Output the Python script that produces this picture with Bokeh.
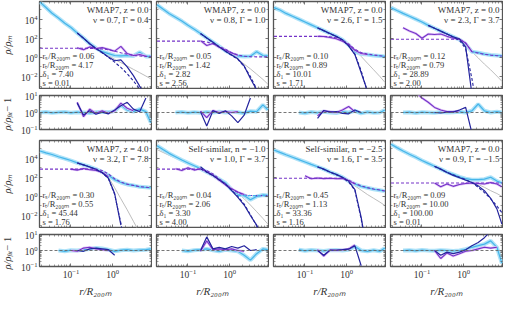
import math
from bokeh.plotting import figure
from bokeh.models import FixedTicker, LogAxis, Label, Span, Range1d, LogTickFormatter
from bokeh.core.properties import value
from bokeh.layouts import column, row
from bokeh.embed import file_html
from bokeh.resources import INLINE

N = float("nan")

# radius grid r / R200m
R = [0.018, 0.025, 0.035, 0.05, 0.071, 0.1, 0.141, 0.2, 0.282, 0.398, 0.562,
     0.794, 1.12, 1.58, 2.24, 3.16, 4.47, 6.31, 8.32]

# log10(rho/rho_m): total (data), fit, orbiting data/model, infalling data/model
P1_TOT = [5.78, 5.22, 4.62, 4.12, 3.58, 3.12, 2.55, 2.02, 1.43, 0.97, 0.6, 0.4, 0.2, 0.15, 0.2, 0.15, 0.55, 0.1, 0.1]
P1_FIT = [5.75, 5.2, 4.65, 4.1, 3.6, 3.1, 2.55, 2.0, 1.45, 0.95, 0.55, 0.2, -0.2, -0.55, -0.9, -1.25, -1.6, -1.95, -2.25]
P1_ORB = [N, N, N, N, N, N, 2.55, 2.0, 1.42, 0.93, 0.5, 0.05, -0.35, -0.25, -1.0, -1.9, -3.0, -4.0, N]
P1_ORBM = [N, N, N, N, N, N, 2.55, 2.0, 1.42, 0.92, 0.48, 0.0, -0.5, -1.05, -1.7, -2.45, -3.3, -4.2, N]
P1_INF = [N, N, N, N, N, N, 1.0, 0.8, 1.1, 0.92, 1.02, 0.85, 0.65, 1.15, 0.4, 0.2, 0.3, 0.12, N]
P1_INFM = [0.95, 0.95, 0.95, 0.95, 0.95, 0.95, 0.95, 0.95, 0.94, 0.92, 0.88, 0.8, 0.65, 0.48, 0.33, 0.22, 0.15, 0.11, 0.1]
P1_RTOT = [0.0, 0.03, -0.02, 0.01, 0.03, -0.02, 0.02, 0.0, -0.03, 0.02, 0.04, 0.02, 0.08, 0.45, 0.15, 0.05, 0.2, 0.05, -0.6]
P1_RORB = [N, N, N, N, N, N, 0.55, -0.15, 0.1, -0.1, 0.02, -0.08, 0.15, 0.4, 0.6, 0.2, 0.05, 0.85, N]
P1_RINF = [N, N, N, N, N, N, 0.6, -0.25, 0.2, -0.05, 0.1, -0.05, 0.1, 0.55, 0.25, 0.1, N, N, N]

P2_TOT = [5.5, 5.05, 4.6, 4.2, 3.8, 3.35, 2.95, 2.5, 2.05, 1.6, 1.15, 0.7, 0.35, 0.15, 0.1, 0.12, 0.6, 0.2, 0.15]
P2_FIT = [5.25, 4.9, 4.5, 4.12, 3.75, 3.33, 2.93, 2.48, 2.03, 1.58, 1.12, 0.68, 0.3, -0.2, -0.7, -1.2, -1.75, -2.3, -2.8]
P2_ORB = [N, N, N, N, N, N, N, 2.5, 2.03, 1.58, 1.1, 0.65, 0.25, -0.15, -0.9, -2.2, -3.4, N, N]
P2_ORBM = [N, N, N, N, N, N, N, 2.48, 2.02, 1.56, 1.1, 0.64, 0.22, -0.2, -0.95, -2.0, -3.3, -4.5, N]
P2_INF = [N, N, N, N, N, N, N, 1.75, 1.25, 1.45, 1.05, 0.78, 0.45, 0.22, N, N, N, N, N]
P2_INFM = [1.7, 1.7, 1.7, 1.7, 1.7, 1.7, 1.7, 1.7, 1.62, 1.42, 1.15, 0.85, 0.5, 0.25, 0.12, 0.08, 0.06, 0.05, 0.05]
P2_RTOT = [N, N, N, 0.0, 0.03, -0.02, 0.02, -0.01, 0.03, 0.0, 0.04, 0.0, 0.05, 0.02, -0.04, 0.08, 0.05, 0.45, 0.15]
P2_RORB = [N, N, N, N, N, N, N, 0.05, -0.8, 0.1, -0.05, 0.1, -0.2, -0.6, -0.15, 0.85, N, N, N]
P2_RINF = [N, N, N, N, N, N, N, 0.08, -0.3, 0.12, 0.0, 0.06, 0.0, 0.05, N, N, N, N, N]

P3_TOT = [5.2, 4.95, 4.6, 4.3, 4.0, 3.7, 3.4, 3.1, 2.8, 2.5, 2.2, 1.85, 1.3, 0.6, 0.35, 0.3, 0.2, 0.15, 0.1]
P3_FIT = [5.1, 4.85, 4.57, 4.28, 3.98, 3.68, 3.38, 3.08, 2.78, 2.48, 2.18, 1.82, 1.3, 0.8, 0.1, -0.6, -1.3, -2.0, -2.6]
P3_ORB = [N, N, N, N, N, N, N, 3.1, 2.8, 2.5, 2.2, 1.85, 1.2, 0.3, -1.6, -3.5, N, N, N]
P3_ORBM = [N, N, N, N, N, N, N, 3.08, 2.78, 2.48, 2.18, 1.82, 1.22, 0.35, -1.4, -3.6, N, N, N]
P3_INF = [N, N, N, N, N, N, N, 2.2, 2.18, 2.08, 1.95, 1.7, 1.35, 0.75, 0.4, 0.3, N, N, N]
P3_INFM = [2.2, 2.2, 2.2, 2.2, 2.2, 2.2, 2.2, 2.2, 2.19, 2.15, 2.05, 1.8, 1.4, 0.85, 0.5, 0.35, 0.25, 0.18, 0.12]
P3_RTOT = [N, N, N, N, 0.0, -0.04, 0.03, -0.02, 0.04, 0.0, -0.03, 0.05, 0.0, 0.1, -0.05, 0.03, -0.02, 0.0, 0.15]
P3_RORB = [N, N, N, N, N, N, N, -0.35, 0.12, 0.02, 0.06, -0.05, -0.08, 0.15, 0.0, N, N, N, N]
P3_RINF = [N, N, N, N, N, N, N, -0.2, 0.1, 0.05, 0.0, 0.15, 0.35, 0.05, N, N, N, N, N]

P4_TOT = [5.2, 4.9, 4.6, 4.3, 4.0, 3.7, 3.35, 3.05, 2.75, 2.45, 2.15, 1.85, 1.4, 0.6, 0.5, 0.35, 0.25, 0.2, 0.15]
P4_FIT = [5.15, 4.87, 4.58, 4.28, 3.98, 3.68, 3.34, 3.04, 2.74, 2.44, 2.14, 1.82, 1.3, 0.6, -0.05, -0.7, -1.3, -1.95, -2.5]
P4_ORB = [N, N, N, N, N, N, 3.35, 3.05, 2.75, 2.45, 2.15, 1.95, 1.1, -3.8, N, N, N, N, N]
P4_ORBM = [N, N, N, N, N, N, 3.34, 3.04, 2.74, 2.44, 2.12, 1.8, 0.9, -2.2, -6.0, N, N, N, N]
P4_INF = [N, N, 3.1, 2.75, 2.5, 2.0, 2.45, 2.4, 2.45, 2.2, 2.0, 1.9, 1.5, 0.6, N, N, N, N, N]
P4_INFM = [1.9, 1.9, 1.9, 1.9, 1.9, 1.9, 1.9, 1.9, 1.9, 1.9, 1.9, 1.9, 1.5, 0.6, 0.45, 0.32, 0.24, 0.18, 0.14]
P4_RTOT = [N, N, 0.0, 0.02, -0.03, 0.02, 0.0, -0.02, 0.03, 0.0, 0.02, 0.05, 0.0, 0.1, 0.5, 0.1, 0.0, 0.05, 0.0]
P4_RORB = [N, N, N, N, N, N, N, 0.0, -0.03, 0.02, 0.02, 0.15, 0.3, -1.2, N, N, N, N, N]
P4_RINF = [N, N, 1.6, 1.3, 1.2, 0.85, 0.6, 0.3, 0.15, 0.05, 0.05, 0.1, N, N, N, N, N, N, N]

P5_TOT = [4.75, 4.55, 4.38, 4.15, 3.95, 3.75, 3.5, 3.3, 3.1, 2.85, 2.55, 2.2, 1.75, 1.45, 1.25, 1.15, 1.0, 0.95, 0.9]
P5_FIT = [4.72, 4.53, 4.35, 4.13, 3.93, 3.73, 3.48, 3.28, 3.07, 2.82, 2.5, 2.0, 0.9, -0.25, -1.4, -2.6, -3.8, -5.0, -6.0]
P5_ORB = [N, N, N, N, N, N, 3.5, 3.3, 3.08, 2.82, 2.5, 1.9, 0.3, -3.0, N, N, N, N, N]
P5_ORBM = [N, N, N, N, N, N, 3.49, 3.29, 3.07, 2.81, 2.48, 1.85, 0.2, -2.8, -7.0, N, N, N, N]
P5_INF = [N, N, N, N, N, 2.85, 2.75, 2.92, 2.78, 2.72, 2.5, 2.05, N, N, N, N, N, N, N]
P5_INFM = [2.85, 2.85, 2.85, 2.85, 2.85, 2.85, 2.85, 2.85, 2.85, 2.85, 2.7, 2.35, 1.85, 1.5, 1.28, 1.15, 1.03, 0.96, 0.9]
P5_RTOT = [N, N, N, 0.0, -0.05, 0.02, 0.0, 0.05, 0.1, 0.15, 0.12, 0.05, -0.05, 0.02, 0.05, 0.0, 0.03, 0.05, 0.1]
P5_RORB = [N, N, N, N, N, N, 0.0, -0.05, 0.1, 0.15, 0.1, 0.05, -0.3, N, N, N, N, N, N]
P5_RINF = [N, N, N, N, N, 0.0, -0.05, 0.15, 0.2, 0.1, 0.05, 0.0, N, N, N, N, N, N, N]

P6_TOT = [5.3, 4.9, 4.5, 4.15, 3.8, 3.5, 3.2, 2.9, 2.55, 2.2, 1.8, 1.4, 0.7, 0.25, 0.1, -0.35, 0.0, 0.15, 0.1]
P6_FIT = [4.9, 4.6, 4.3, 4.0, 3.7, 3.42, 3.15, 2.85, 2.5, 2.15, 1.75, 1.35, 0.9, 0.35, -0.25, -0.9, -1.6, -2.3, -2.9]
P6_ORB = [N, N, N, N, N, N, N, 3.1, 2.55, 2.2, 1.75, 1.3, 0.6, -0.1, -0.9, -2.0, -3.0, -4.5, N]
P6_ORBM = [N, N, N, N, N, N, N, 2.88, 2.52, 2.17, 1.72, 1.28, 0.65, 0.0, -0.8, -1.9, -3.1, -4.5, N]
P6_INF = [N, N, N, 2.9, 2.7, 3.0, 2.75, 2.9, 2.6, 2.2, 1.7, 1.2, 0.8, 0.45, 0.2, N, N, N, N]
P6_INFM = [2.85, 2.85, 2.85, 2.85, 2.85, 2.85, 2.85, 2.85, 2.7, 2.35, 1.85, 1.3, 0.8, 0.4, 0.15, 0.1, 0.08, 0.08, 0.08]
P6_TOTM = [N, N, N, N, N, N, N, N, N, N, N, N, N, 0.08, 0.08, 0.08, 0.08, 0.08, 0.08]
P6_RTOT = [N, N, N, N, 0.0, -0.05, 0.02, 0.05, 0.1, 0.02, -0.05, 0.05, 0.0, -0.05, -0.3, -0.6, -0.2, 0.1, 0.05]
P6_RORB = [N, N, N, N, N, N, N, 0.0, 0.85, 0.1, 0.2, 0.1, 0.25, 0.15, 0.3, 0.0, 0.05, N, N]
P6_RINF = [N, N, N, N, N, N, N, -0.05, 0.6, 0.05, 0.1, 0.05, 0.1, 0.0, -0.05, N, N, N, N]

P7_TOT = [4.85, 4.6, 4.35, 4.1, 3.85, 3.6, 3.35, 3.1, 2.85, 2.55, 2.3, 2.0, 1.6, 1.3, 1.05, 0.9, 0.75, 0.65, 0.55]
P7_FIT = [4.82, 4.58, 4.33, 4.08, 3.83, 3.58, 3.33, 3.08, 2.83, 2.53, 2.27, 1.97, 1.55, 1.1, 0.65, 0.2, -0.2, -0.6, -0.95]
P7_ORB = [N, N, N, N, N, N, N, 3.1, 2.85, 2.55, 2.3, 2.0, 1.6, 0.7, -2.2, -6.0, N, N, N]
P7_ORBM = [N, N, N, N, N, N, N, 3.08, 2.83, 2.53, 2.27, 1.97, 1.5, 0.65, -2.4, -6.0, N, N, N]
P7_INF = [N, N, N, N, N, 2.15, 1.85, 1.92, 1.86, 1.9, 1.85, 1.88, 1.65, 1.3, N, N, N, N, N]
P7_INFM = [1.9, 1.9, 1.9, 1.9, 1.9, 1.9, 1.9, 1.9, 1.9, 1.9, 1.9, 1.9, 1.7, 1.35, 1.1, 0.92, 0.78, 0.67, 0.57]
P7_RTOT = [N, N, N, N, 0.05, -0.02, 0.03, 0.0, -0.03, 0.02, 0.03, 0.0, 0.05, 0.25, 0.0, -0.05, 0.02, -0.05, 0.15]
P7_RORB = [N, N, N, N, N, N, N, 0.0, -0.3, 0.02, 0.03, 0.05, 0.08, 0.3, -0.95, N, N, N, N]
P7_RINF = [N, N, N, N, N, N, N, 0.05, -0.35, 0.03, 0.0, 0.05, 0.1, 0.35, N, N, N, N, N]

P8_TOT = [5.45, 5.1, 4.75, 4.4, 4.1, 3.75, 3.45, 3.15, 2.85, 2.55, 2.3, 2.05, 1.85, 1.75, 1.75, 1.8, 2.0, 1.6, 1.4]
P8_FIT = [5.5, 5.12, 4.75, 4.4, 4.08, 3.73, 3.43, 3.13, 2.83, 2.53, 2.27, 2.03, 1.8, 1.55, 1.25, 0.95, 0.6, 0.3, 0.0]
P8_ORB = [N, N, N, N, N, N, N, 3.15, 2.85, 2.5, 2.2, 1.95, 1.7, 1.45, 1.1, 0.6, -0.2, -1.3, -2.9]
P8_ORBM = [N, N, N, N, N, N, N, 3.13, 2.83, 2.52, 2.25, 2.0, 1.75, 1.45, 0.95, 0.4, -0.25, -1.0, -1.7]
P8_INF = [N, N, N, N, N, N, N, 1.4, 1.0, 1.3, 1.05, 1.25, 1.35, 1.4, 1.35, 1.3, 1.45, 1.3, 1.0]
P8_INFM = [1.4, 1.4, 1.4, 1.4, 1.4, 1.4, 1.4, 1.4, 1.4, 1.4, 1.4, 1.4, 1.4, 1.4, 1.4, 1.4, 1.4, 1.4, 1.4]
P8_RTOT = [N, N, 0.0, 0.02, -0.02, 0.03, 0.0, -0.02, 0.02, 0.0, -0.03, 0.0, 0.08, 0.2, 0.3, 0.4, 0.6, 0.2, -0.8]
P8_RORB = [N, N, N, N, N, N, N, 0.0, -0.3, -0.1, -0.2, -0.1, 0.05, 0.3, 0.5, 0.8, 1.2, 1.2, N]
P8_RINF = [N, N, N, N, N, N, N, 0.0, -0.5, -0.15, -0.35, -0.2, -0.05, 0.0, 0.1, 0.2, 0.15, 0.2, N]

TITLES = ["WMAP7, z = 0.0", "WMAP7, z = 0.0", "WMAP7, z = 0.0", "WMAP7, z = 0.0",
          "WMAP7, z = 4.0", "Self-similar, n = \u22121.0", "Self-similar, n = \u22122.5", "WMAP7, z = 0.0"]
SUBTITLES = ["\u03bd = 0.7, \u0393 = 0.4", "\u03bd = 0.8, \u0393 = 1.0", "\u03bd = 2.6, \u0393 = 1.5",
             "\u03bd = 2.3, \u0393 = 3.7", "\u03bd = 3.2, \u0393 = 7.8", "\u03bd = 1.0, \u0393 = 3.7",
             "\u03bd = 1.6, \u0393 = 3.5", "\u03bd = 0.9, \u0393 = \u22121.5"]
RS = ["0.06", "0.05", "0.10", "0.12", "0.30", "0.04", "0.45", "0.09"]
RT = ["4.17", "1.42", "0.89", "0.79", "0.55", "2.06", "1.13", "10.00"]
DELTA1 = ["7.40", "2.82", "10.01", "28.89", "45.44", "3.30", "33.36", "100.00"]
SVAL = ["0.01", "2.56", "1.71", "2.00", "1.76", "4.00", "1.16", "0.01"]

X_TICKS = [0.1, 1.0]
X_MINOR = [0.02, 0.03, 0.04, 0.05, 0.06, 0.07, 0.08, 0.09, 0.2, 0.3, 0.4, 0.5, 0.6, 0.7, 0.8, 0.9,
           2, 3, 4, 5, 6, 7, 8]
Y_TICKS = [1e-2, 1.0, 1e2, 1e4]
Y_MINOR = [1e-3, 1e-1, 1e1, 1e3, 1e5]
RES_TICKS = [0.1, 1.0, 10.0]
RES_MINOR = [0.2, 0.3, 0.4, 0.5, 0.6, 0.7, 0.8, 0.9, 2, 3, 4, 5, 6, 7, 8, 9]

X_RANGE = (0.0175, 8.6)
Y_MAIN = (5.6e-4, 7.0e5)
Y_RES = (0.1, 10.0)

PANELS = [
    (P1_TOT, P1_FIT, P1_ORB, P1_ORBM, P1_INF, P1_INFM, None, P1_RTOT, P1_RORB, P1_RINF),
    (P2_TOT, P2_FIT, P2_ORB, P2_ORBM, P2_INF, P2_INFM, None, P2_RTOT, P2_RORB, P2_RINF),
    (P3_TOT, P3_FIT, P3_ORB, P3_ORBM, P3_INF, P3_INFM, None, P3_RTOT, P3_RORB, P3_RINF),
    (P4_TOT, P4_FIT, P4_ORB, P4_ORBM, P4_INF, P4_INFM, None, P4_RTOT, P4_RORB, P4_RINF),
    (P5_TOT, P5_FIT, P5_ORB, P5_ORBM, P5_INF, P5_INFM, None, P5_RTOT, P5_RORB, P5_RINF),
    (P6_TOT, P6_FIT, P6_ORB, P6_ORBM, P6_INF, P6_INFM, P6_TOTM, P6_RTOT, P6_RORB, P6_RINF),
    (P7_TOT, P7_FIT, P7_ORB, P7_ORBM, P7_INF, P7_INFM, None, P7_RTOT, P7_RORB, P7_RINF),
    (P8_TOT, P8_FIT, P8_ORB, P8_ORBM, P8_INF, P8_INFM, None, P8_RTOT, P8_RORB, P8_RINF),
]

CYAN = "#45b5ea"
CYAN_BAND = "#aee2f8"
NAVY = "#24249e"
PURPLE = "#7433c8"
PURPLE_BAND = "#e2c6f7"
GRAY = "#b5b5b5"
INK = "#333333"
FRAME = "#555555"
SERIF = "Liberation Serif"

STRIP_W = 15
FRAME_W = 112
MAIN_H = 87
RES_H = 34
LEFT0 = 24
LEFTN = 4
TOP_MAIN = (1, 5)
TOP_RES = 6
BOTTOM_RES = (6, 31)


def lin(v):
    return [10 ** x for x in v]


def style_axis(ax, show):
    ax.major_tick_in = 3
    ax.major_tick_out = 0
    ax.minor_tick_in = 2
    ax.minor_tick_out = 0
    ax.axis_line_color = None
    ax.major_tick_line_color = FRAME
    ax.minor_tick_line_color = FRAME
    ax.major_tick_line_width = 0.8
    ax.minor_tick_line_width = 0.6
    if show:
        ax.major_label_text_font = SERIF
        ax.major_label_text_font_size = "9.5px"
        ax.major_label_text_color = INK
        ax.major_label_standoff = 2
    else:
        ax.major_label_text_font_size = "1px"
        ax.major_label_text_alpha = 0.0
        ax.major_label_standoff = 0


def make_fig(col, kind, rowi):
    left = LEFT0 if col == 0 else LEFTN
    if kind == "main":
        top = TOP_MAIN[rowi]
        bottom = 1
        h = MAIN_H
        yr = Y_MAIN
        yt, ym = Y_TICKS, Y_MINOR
    else:
        top = TOP_RES
        bottom = BOTTOM_RES[rowi]
        h = RES_H
        yr = Y_RES
        yt, ym = RES_TICKS, RES_MINOR
    p = figure(width=left + FRAME_W + 1, height=top + h + bottom,
               x_axis_type="log", y_axis_type="log",
               x_range=Range1d(*X_RANGE), y_range=Range1d(*yr),
               output_backend="svg", toolbar_location=None,
               min_border_left=left, min_border_right=1,
               min_border_top=top, min_border_bottom=bottom)
    p.outline_line_color = FRAME
    p.outline_line_width = 1.3
    p.xgrid.visible = False
    p.ygrid.visible = False
    p.background_fill_color = "white"
    p.border_fill_color = "white"
    p.xaxis.ticker = FixedTicker(ticks=X_TICKS, minor_ticks=X_MINOR)
    p.yaxis.ticker = FixedTicker(ticks=yt, minor_ticks=ym)
    show_x = (kind == "res" and rowi == 1)
    style_axis(p.xaxis[0], show_x)
    style_axis(p.yaxis[0], col == 0)
    if show_x:
        p.xaxis.axis_label = "r/R\u2082\u2080\u2080\u2098"
        p.xaxis.axis_label_text_font = SERIF
        p.xaxis.axis_label_text_font_style = "italic"
        p.xaxis.axis_label_text_font_size = "11px"
        p.xaxis.axis_label_text_color = INK
        p.xaxis.axis_label_standoff = 4
    top_ax = LogAxis(ticker=FixedTicker(ticks=X_TICKS, minor_ticks=X_MINOR), formatter=LogTickFormatter())
    right_ax = LogAxis(ticker=FixedTicker(ticks=yt, minor_ticks=ym), formatter=LogTickFormatter())
    style_axis(top_ax, False)
    style_axis(right_ax, False)
    p.add_layout(top_ax, "above")
    p.add_layout(right_ax, "right")
    return p, top + h + bottom, top, h


def label(p, text, x, y, xo, yo, align, baseline, size="9px"):
    p.add_layout(Label(x=x, y=y, x_offset=xo, y_offset=yo, text=text,
                       text_align=align, text_baseline=baseline,
                       text_font=SERIF, text_font_size=size,
                       text_color=INK))


def draw_main(p, i):
    tot, fit, orb, orbm, inf, infm, totm = PANELS[i][:7]
    p.line(R, lin(fit), line_color=GRAY, line_width=0.9)
    p.line(R, lin(tot), line_color=CYAN_BAND, line_width=4.0)
    p.line(R, lin(tot), line_color=CYAN, line_width=1.2)
    p.line(R, lin(inf), line_color=PURPLE_BAND, line_width=2.5)
    p.line(R, lin(inf), line_color=PURPLE, line_width=1.1)
    p.line(R, lin(orb), line_color=NAVY, line_width=1.2)
    p.line(R, lin(infm), line_color=PURPLE, line_width=1.1, line_dash="3 2")
    p.line(R, lin(orbm), line_color=NAVY, line_width=1.1, line_dash="3 2")
    if totm is not None:
        p.line(R, lin(totm), line_color=CYAN, line_width=1.1, line_dash="3 2")
    label(p, TITLES[i], X_RANGE[1], Y_MAIN[1], -3, -3, "right", "top")
    label(p, SUBTITLES[i], X_RANGE[1], Y_MAIN[1], -3, -13, "right", "top")
    lines = ["r\u209b/R\u2082\u2080\u2080\u2098 = " + RS[i],
             "r\u209c/R\u2082\u2080\u2080\u2098 = " + RT[i],
             "\u03b4\u2081 = " + DELTA1[i],
             "s = " + SVAL[i]]
    for k, t in enumerate(lines):
        label(p, t, X_RANGE[0], Y_MAIN[0], 3, 33 - 9 * k, "left", "middle", size="8.5px")


def draw_res(p, i):
    rtot, rorb, rinf = PANELS[i][7:]
    p.add_layout(Span(location=1.0, dimension="width", line_color="#666666",
                      line_width=0.9, line_dash="3 2"))
    p.line(R, lin(rtot), line_color=CYAN_BAND, line_width=4.0)
    p.line(R, lin(rtot), line_color=CYAN, line_width=1.2)
    p.line(R, lin(rinf), line_color=PURPLE_BAND, line_width=2.5)
    p.line(R, lin(rinf), line_color=PURPLE, line_width=1.1)
    p.line(R, lin(rorb), line_color=NAVY, line_width=1.2)


rows = []
centers = []  # vertical centre (from top) of each row of frames, for the y labels
offset = 0
for rowi in range(2):
    mains, ress = [], []
    for col in range(4):
        i = rowi * 4 + col
        pm, hm, tm, fm = make_fig(col, "main", rowi)
        draw_main(pm, i)
        pr, hr, tr, fr = make_fig(col, "res", rowi)
        draw_res(pr, i)
        mains.append(pm)
        ress.append(pr)
    centers.append(("main", offset + tm + fm / 2.0))
    centers.append(("res", offset + hm + tr + fr / 2.0))
    offset += hm + hr
    rows.append(row(*mains))
    rows.append(row(*ress))

TOTAL_H = offset

# strip holding the rotated y-axis labels
strip = figure(width=STRIP_W, height=TOTAL_H, x_range=(0, STRIP_W), y_range=(0, TOTAL_H),
               output_backend="svg", toolbar_location=None,
               x_axis_location=None, y_axis_location=None,
               min_border_left=0, min_border_right=0, min_border_top=0, min_border_bottom=0)
strip.outline_line_color = None
strip.xgrid.visible = False
strip.ygrid.visible = False
strip.border_fill_color = "white"
strip.background_fill_color = "white"
ANG = math.pi / 2
for kind, cy in centers:
    yc = TOTAL_H - cy
    if kind == "main":
        strip.text(x=[7.0], y=[yc], text=["\u03c1/\u03c1\u2098"], angle=ANG,
                   text_align="center", text_baseline="middle",
                   text_font=value(SERIF), text_font_style="italic",
                   text_font_size="10.5px", text_color=INK)
    else:
        strip.text(x=[6.5], y=[yc - 18], text=["\u03c1/\u03c1"], angle=ANG,
                   text_align="left", text_baseline="middle",
                   text_font=value(SERIF), text_font_style="italic",
                   text_font_size="10.5px", text_color=INK)
        strip.text(x=[9.0], y=[yc - 5], text=["fit"], angle=ANG,
                   text_align="left", text_baseline="middle",
                   text_font=value(SERIF), text_font_style="italic",
                   text_font_size="6.5px", text_color=INK)
        strip.text(x=[6.5], y=[yc + 1.0], text=[" \u2212 1"], angle=ANG,
                   text_align="left", text_baseline="middle",
                   text_font=value(SERIF),
                   text_font_size="10.5px", text_color=INK)

p = row(strip, column(*rows))
open("out.html", "w").write(file_html(p, INLINE))
